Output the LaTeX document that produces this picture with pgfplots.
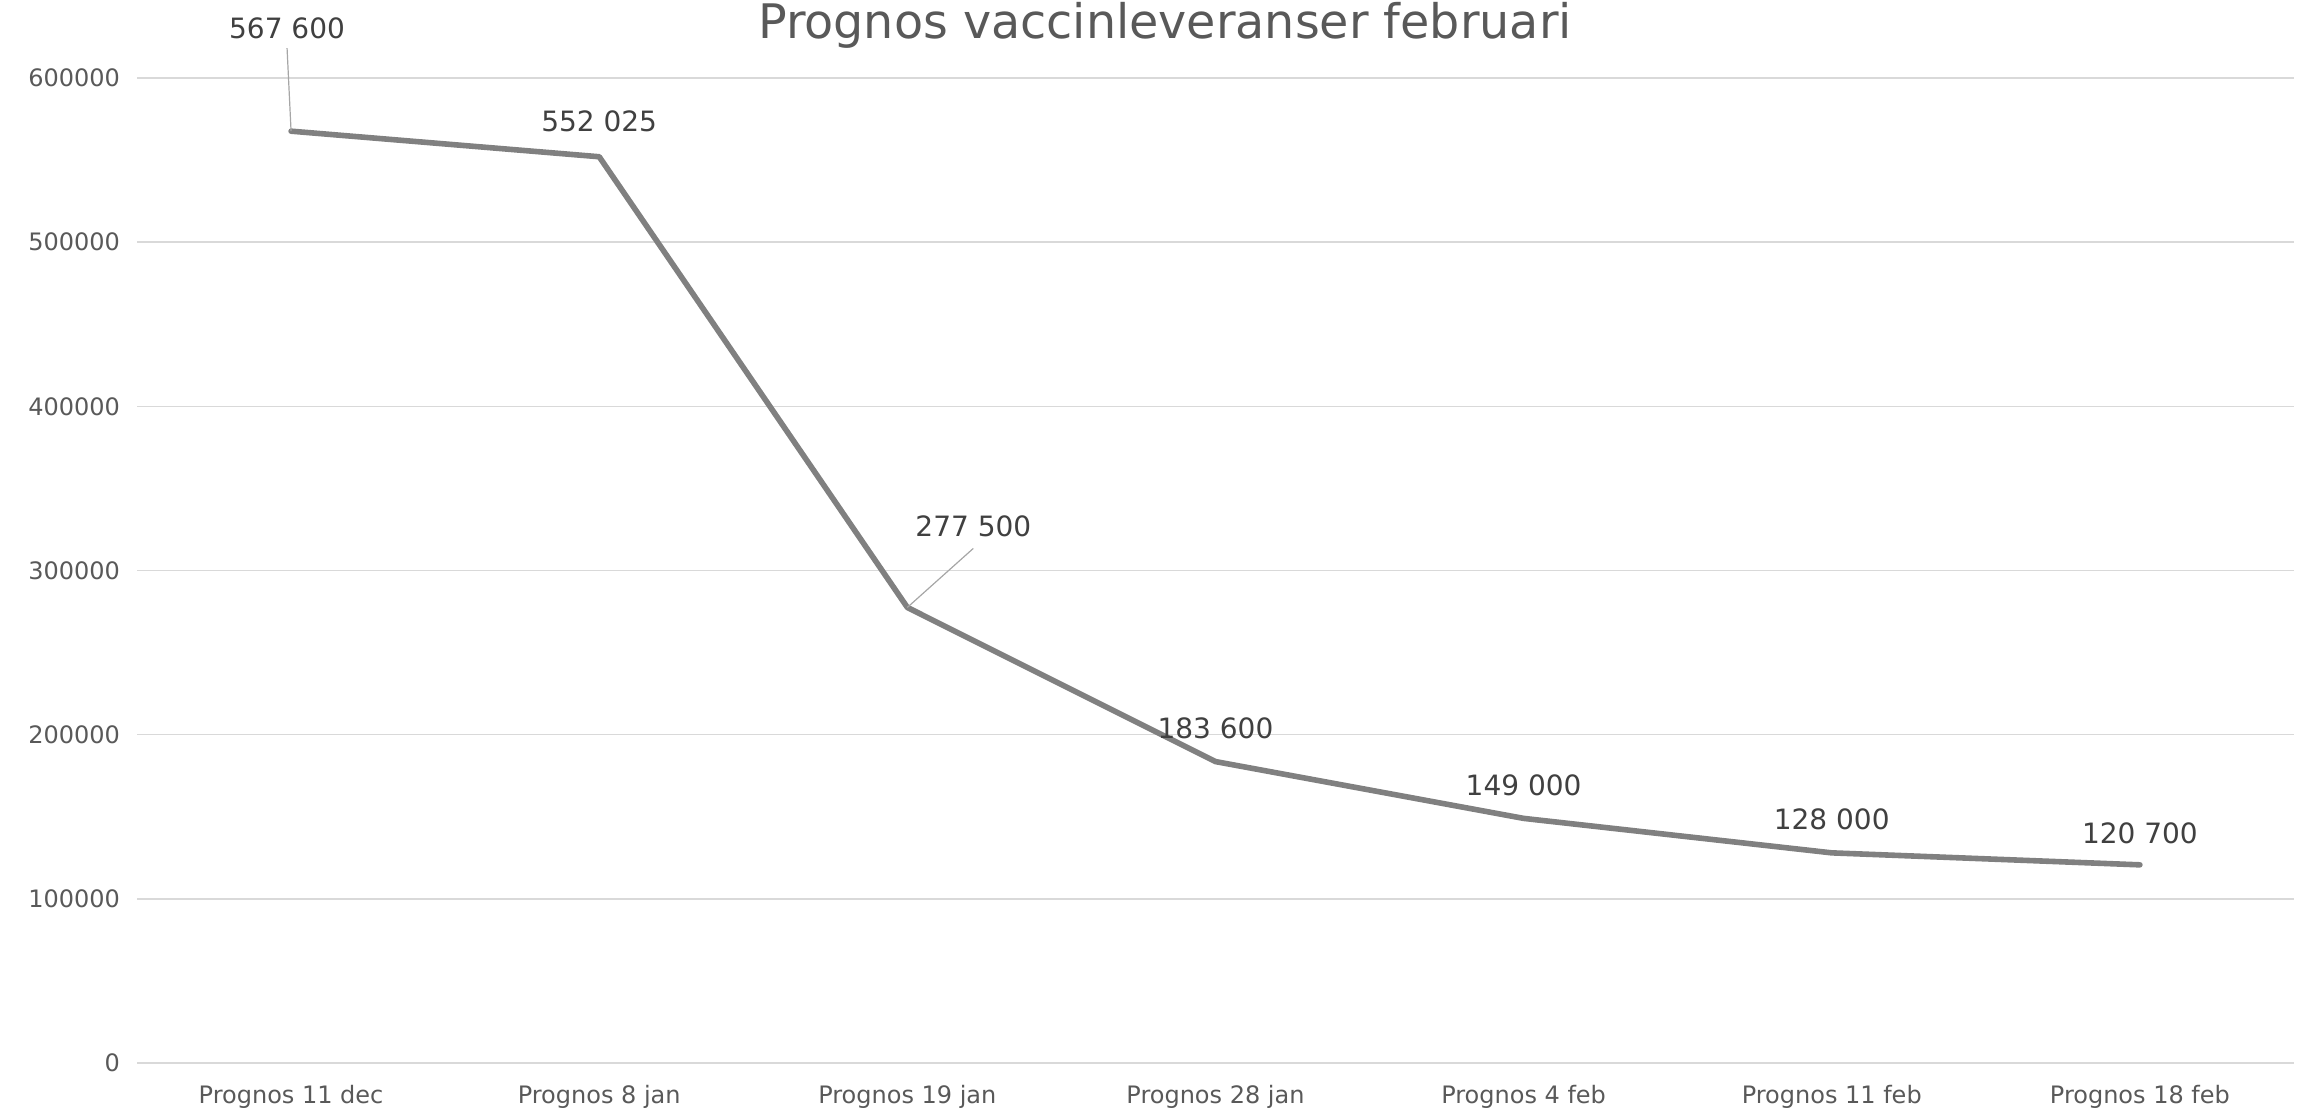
\documentclass[border=0pt]{standalone}
\usepackage{pgfplots}
\usepackage{pgfplotstable}
\pgfplotsset{compat=1.18}
\usepackage{fontspec}
\setmainfont{DejaVu Sans}
\definecolor{ticktxt}{HTML}{595959}
\definecolor{lbltxt}{HTML}{404040}
\definecolor{gridc}{HTML}{D9D9D9}
\definecolor{linec}{HTML}{808080}
\definecolor{leadc}{HTML}{A6A6A6}

\pgfplotstableread{
x y label dx dy
0 567600 {567 600} -2 51.5
1 552025 {552 025} 0 17.5
2 277500 {277 500} 33 40.5
3 183600 {183 600} 0 16.5
4 149000 {149 000} 0 16.5
5 128000 {128 000} 0 17
6 120700 {120 700} 0 16
}\datatable

\begin{document}
\begin{tikzpicture}
\clip (0,0) rectangle (1153pt,558.5pt);
\begin{axis}[
  at={(68.5pt,27pt)}, anchor=south west,
  scale only axis, width=1078.5pt, height=492.5pt,
  xmin=-0.5, xmax=6.5, ymin=0, ymax=600000,
  xtick={0,1,2,3,4,5,6},
  xticklabels={Prognos 11 dec, Prognos 8 jan, Prognos 19 jan, Prognos 28 jan, Prognos 4 feb, Prognos 11 feb, Prognos 18 feb},
  ytick={0,100000,200000,300000,400000,500000,600000},
  yticklabels={0,100000,200000,300000,400000,500000,600000},
  scaled y ticks=false,
  ymajorgrids, grid style={gridc, line width=0.8pt},
  axis line style={draw=none},
  major tick length=0pt,
  tick style={draw=none},
  ticklabel style={font=\fontsize{12}{14}\selectfont, text=ticktxt},
  yticklabel style={anchor=east, xshift=-5pt},
  xticklabel style={anchor=center, yshift=-17pt},
  clip=false,
]
\addplot[linec, line width=2.8pt, line join=round, line cap=round,
  point meta=explicit symbolic,
  visualization depends on={\thisrow{dx} \as \dx},
  visualization depends on={\thisrow{dy} \as \dy},
  nodes near coords,
  every node near coord/.append style={anchor=center, xshift=\dx pt, yshift=\dy pt, font=\fontsize{14}{16}\selectfont, text=lbltxt, inner sep=0pt},
] table[x=x, y=y, meta=label] {\datatable};
\addplot[leadc, line width=0.6pt] coordinates {(0,567600) (-0.013,618157)};
\addplot[leadc, line width=0.6pt] coordinates {(2,277500) (2.214,313438)};
\end{axis}
\node[anchor=base, text=ticktxt, font=\fontsize{23.8}{26}\selectfont] at (582.5pt,539pt) {Prognos vaccinleveranser februari};
\end{tikzpicture}
\end{document}
